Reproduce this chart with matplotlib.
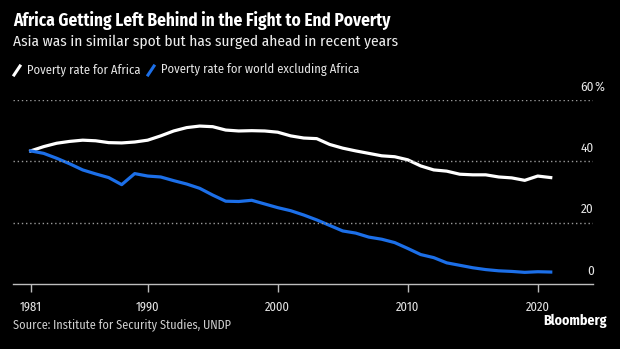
import matplotlib
matplotlib.use("Agg")
import matplotlib.pyplot as plt
from matplotlib.lines import Line2D
from matplotlib.transforms import blended_transform_factory

# poverty rate, % of population
years = list(range(1981, 2022))
africa = [43.4, 44.8, 45.9, 46.5, 46.9, 46.7, 46.1, 46.0, 46.3, 46.9,
          48.3, 49.9, 51.0, 51.5, 51.3, 50.2, 49.9, 50.0, 49.9, 49.5,
          48.3, 47.6, 47.4, 45.5, 44.3, 43.4, 42.6, 41.8, 41.5, 40.5,
          38.5, 37.2, 36.8, 35.8, 35.6, 35.6, 34.9, 34.6, 33.8, 35.2, 34.7]
world_ex_africa = [43.4, 42.6, 41.0, 39.2, 37.2, 35.9, 34.7, 32.4, 36.0, 35.2,
                   34.9, 33.7, 32.6, 31.2, 29.0, 27.0, 26.9, 27.3, 26.1, 24.9,
                   23.9, 22.5, 20.9, 19.1, 17.3, 16.6, 15.3, 14.6, 13.5, 11.6,
                   9.6, 8.6, 6.9, 6.1, 5.3, 4.7, 4.3, 4.1, 3.8, 4.0, 3.9]
xticks = [1981, 1990, 2000, 2010, 2020]
yticks = [0, 20, 40, 60]

BG = "black"
WHITE = "#ffffff"
BLUE = "#1c6fe8"
GREY = "#bdbdbd"

plt.rcParams["font.family"] = ["Fira Sans Condensed", "DejaVu Sans"]

W, H = 620, 349
fig = plt.figure(figsize=(W / 100, H / 100), dpi=100, facecolor=BG)
ax = fig.add_axes([13 / W, 1 - 284 / H, 580 / W, 184 / H], facecolor=BG)

ax.plot(years, africa, color=WHITE, lw=2.3, solid_joinstyle="round")
ax.plot(years, world_ex_africa, color=BLUE, lw=2.3, solid_joinstyle="round")

ax.set_xlim(1979.64, 2024.25)
ax.set_ylim(0, 60)

for s in ["top", "right", "left"]:
    ax.spines[s].set_visible(False)
ax.spines["bottom"].set_color(GREY)
ax.spines["bottom"].set_linewidth(1)

ax.set_xticks(xticks)
ax.set_xticklabels([str(y) for y in xticks])
ax.tick_params(axis="x", colors=GREY, length=6, width=1, labelsize=9,
               pad=6, labelcolor="#e6e6e6")
ax.set_yticks([])

for v in yticks[1:]:
    ax.axhline(v, color="#9a9a9a", lw=1, ls=(0, (1, 2)))

tr = blended_transform_factory(fig.transFigure, ax.transData)
for v in yticks:
    ax.text(594 / W, v + 4.2, str(v), transform=tr, ha="right", va="center",
            color="#e6e6e6", fontsize=9.5)
ax.text(594 / W, yticks[-1] + 4.2, "%", transform=tr, ha="left", va="center",
        color="#e6e6e6", fontsize=9.5)

# titles
fig.text(13 / W, 1 - 21 / H, "Africa Getting Left Behind in the Fight to End Poverty",
         color=WHITE, fontsize=12.4, fontweight="bold", va="center")
fig.text(13 / W, 1 - 42 / H, "Asia was in similar spot but has surged ahead in recent years",
         color="#eeeeee", fontsize=11.1, va="center")

# legend
for x0, col, label in [(14, WHITE, "Poverty rate for Africa"),
                       (148, BLUE, "Poverty rate for world excluding Africa")]:
    fig.add_artist(Line2D([x0 / W, (x0 + 6) / W], [1 - 75 / H, 1 - 66 / H],
                          color=col, lw=2.2, transform=fig.transFigure))
    fig.text((x0 + 13) / W, 1 - 70 / H, label, color="#e6e6e6", fontsize=9,
             va="center")

fig.text(13 / W, 1 - 325 / H, "Source: Institute for Security Studies, UNDP",
         color="#cfcfcf", fontsize=8.8, va="center")
fig.text(607 / W, 1 - 321 / H, "Bloomberg", color=WHITE, fontsize=10,
         fontweight="bold", ha="right", va="center")

fig.savefig("out.png", dpi=100, facecolor=BG)
